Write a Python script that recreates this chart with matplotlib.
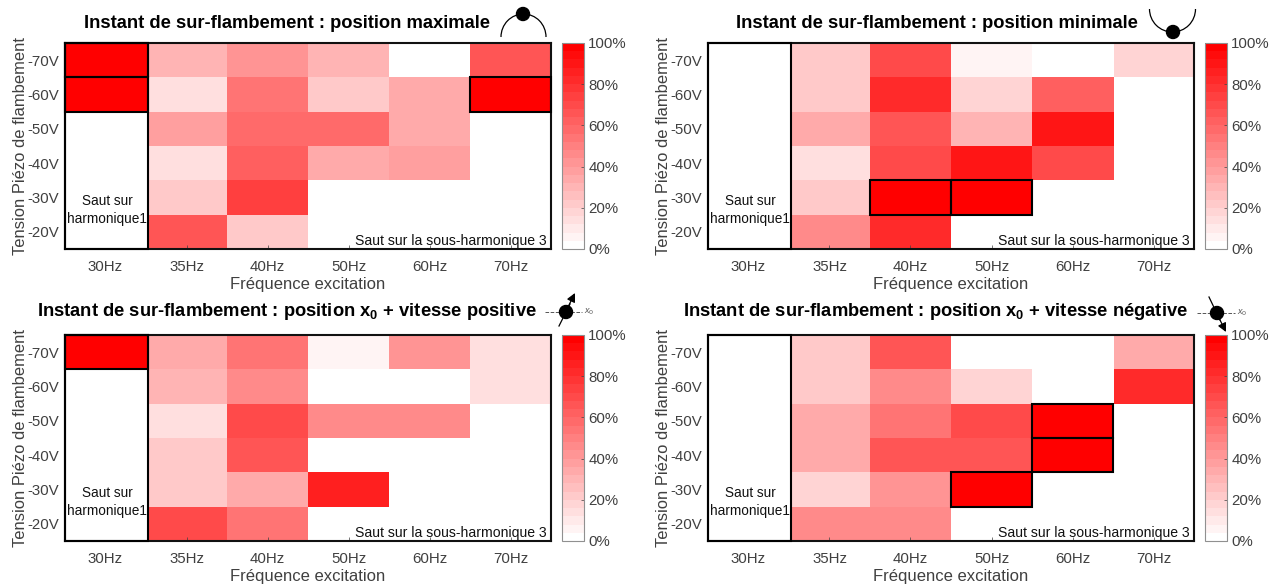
import numpy as np
import matplotlib
matplotlib.use("Agg")
import matplotlib.pyplot as plt
from matplotlib.colors import LinearSegmentedColormap, BoundaryNorm
from matplotlib.patches import Rectangle, Circle, Arc

plt.rcParams['font.family'] = ['Liberation Sans', 'DejaVu Sans']

freqs = ['30Hz', '35Hz', '40Hz', '50Hz', '60Hz', '70Hz']
volts = ['-70V', '-60V', '-50V', '-40V', '-30V', '-20V']

# percent, rows from -70V down to -20V
pos_max = [[100, 30, 43, 28, 0, 65],
           [100, 13, 52, 22, 33, 100],
           [0, 38, 58, 58, 33, 0],
           [0, 13, 62, 35, 37, 0],
           [0, 22, 72, 0, 0, 0],
           [0, 65, 20, 0, 0, 0]]
pos_min = [[0, 22, 70, 7, 0, 17],
           [0, 22, 83, 17, 62, 0],
           [0, 32, 65, 30, 88, 0],
           [0, 12, 70, 88, 70, 0],
           [0, 22, 100, 100, 0, 0],
           [0, 45, 83, 0, 0, 0]]
vit_pos = [[100, 33, 52, 4, 42, 12],
           [0, 30, 47, 0, 0, 12],
           [0, 15, 70, 45, 45, 0],
           [0, 22, 65, 0, 0, 0],
           [0, 22, 32, 85, 0, 0],
           [0, 70, 55, 0, 0, 0]]
vit_neg = [[0, 22, 65, 0, 0, 32],
           [0, 22, 47, 16, 0, 80],
           [0, 32, 55, 70, 100, 0],
           [0, 32, 67, 67, 100, 0],
           [0, 16, 42, 100, 0, 0],
           [0, 45, 45, 0, 0, 0]]

titles = ['Instant de sur-flambement : position maximale',
          'Instant de sur-flambement : position minimale',
          r'Instant de sur-flambement : position x$_\mathbf{0}$ + vitesse positive',
          r'Instant de sur-flambement : position x$_\mathbf{0}$ + vitesse négative']
title_x = [287, 937, 287, 935]
title_y = [24, 24, 311, 312]

W, H = 1273., 587.
lefts = [65, 708, 65, 708]
tops = [43, 43, 335, 335]
ax_w, ax_h = 486, 206
grey = '#404040'

cmap = LinearSegmentedColormap.from_list('wr', ['#ffffff', '#ff0000'], N=25)
norm = BoundaryNorm(np.linspace(0, 100, 26), cmap.N)


def box(l, t, w, h):
    return [l/W, 1-(t+h)/H, w/W, h/H]


fig = plt.figure(figsize=(12.73, 5.87), dpi=100)
plt.rcParams['mathtext.fontset'] = 'custom'
plt.rcParams['mathtext.bf'] = 'Liberation Sans:bold'

datas = [pos_max, pos_min, vit_pos, vit_neg]
for i, d in enumerate(datas):
    d = np.array(d, dtype=float)
    ax = fig.add_axes(box(lefts[i], tops[i], ax_w, ax_h))
    im = ax.imshow(d, cmap=cmap, norm=norm, aspect='auto', interpolation='nearest')
    ax.set_xticks(range(len(freqs)))
    ax.set_xticklabels(freqs)
    ax.set_yticks(range(len(volts)))
    ax.set_yticklabels(volts)
    ax.tick_params(length=3, direction='in', labelsize=10.8, colors=grey, width=0.5)
    ax.tick_params(axis='x', pad=8)
    ax.tick_params(axis='y', pad=4)
    ax.set_xlabel('Fréquence excitation', fontsize=12, color=grey, labelpad=2)
    ax.set_ylabel('Tension Piézo de flambement', fontsize=11.9, color=grey, labelpad=0)
    for s in ax.spines.values():
        s.set_linewidth(1.5)
        s.set_color('#111111')
    # first column is a little wider than the others in the original
    for r in range(d.shape[0]):
        ax.add_patch(Rectangle((-.5, r-.5), 1.03, 1, fc=cmap(norm(d[r, 0])), ec='none', zorder=2))
    # black frames round the saturated cells
    for r, c in zip(*np.where(d >= 100)):
        wc = 1.03 if c == 0 else 1
        ax.add_patch(Rectangle((c-.5, r-.5), wc, 1, fill=False, ec='k', lw=1.5, clip_on=False, zorder=4))
    ax.add_patch(Rectangle((-.5, -.5), 1.03, 6, fill=False, ec='k', lw=1.5, clip_on=False, zorder=4))
    ax.text(0.02, 4.36, 'Saut sur\nharmonique1', ha='center', va='center', fontsize=9.8,
            color='#111111', linespacing=1.35, zorder=5)
    ax.text(5.45, 5.28, 'Saut sur la sous-harmonique 3', ha='right', va='center', fontsize=10.1,
            color='#111111')
    fig.text(title_x[i]/W, 1-title_y[i]/H, titles[i], ha='center', va='center',
             fontsize=13.2, fontweight='bold', color='k')

    cax = fig.add_axes(box(lefts[i]+497, tops[i], 22, ax_h))
    cb = fig.colorbar(im, cax=cax, ticks=[0, 20, 40, 60, 80, 100], spacing='proportional', drawedges=False)
    cb.ax.set_yticklabels(['0%', '20%', '40%', '60%', '80%', '100%'])
    cb.ax.minorticks_off()
    cb.ax.tick_params(length=2, direction='in', labelsize=10.8, colors=grey, pad=3, width=0.5)
    cb.outline.set_edgecolor('#909090')
    cb.outline.set_linewidth(0.8)

# small pictograms next to the titles, in pixel coordinates
ov = fig.add_axes([0, 0, 1, 1], facecolor='none')
ov.set_xlim(0, W)
ov.set_ylim(H, 0)
ov.axis('off')
ov.add_patch(Arc((523.5, 37), 45, 46, theta1=180, theta2=360, lw=0.9, color='k'))
ov.add_patch(Circle((523, 14), 6.5, color='k'))
ov.add_patch(Arc((1172.5, 9), 46, 46, theta1=0, theta2=180, lw=0.9, color='k'))
ov.add_patch(Circle((1173, 32), 6.5, color='k'))

ov.plot([545, 582], [312, 312], '--', color='#555555', lw=0.7)
ov.add_patch(Circle((566, 312), 6.5, color='k', zorder=3))
ov.text(584, 312, 'x$_0$', fontsize=6.5, color='#555555', style='italic', va='center')
ov.plot([559, 570], [326, 304], color='k', lw=0.9)
ov.annotate('', xy=(575, 293), xytext=(568, 307),
            arrowprops=dict(arrowstyle='-|>', color='k', lw=0.9, mutation_scale=13, shrinkA=0, shrinkB=0))

ov.plot([1197, 1235], [313, 313], '--', color='#555555', lw=0.7)
ov.add_patch(Circle((1217, 313), 6.5, color='k', zorder=3))
ov.text(1237, 313, 'x$_0$', fontsize=6.5, color='#555555', style='italic', va='center')
ov.plot([1209, 1220], [297, 320], color='k', lw=0.9)
ov.annotate('', xy=(1226, 332), xytext=(1219, 318),
            arrowprops=dict(arrowstyle='-|>', color='k', lw=0.9, mutation_scale=13, shrinkA=0, shrinkB=0))

fig.savefig('out.png', dpi=100)
